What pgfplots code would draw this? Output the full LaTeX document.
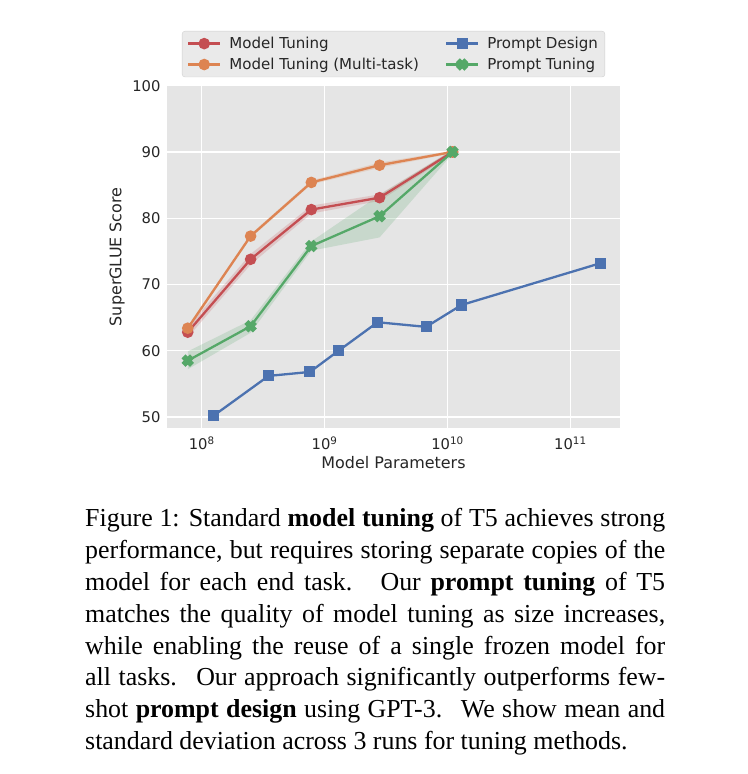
\documentclass[border=0pt]{standalone}
\usepackage{pgfplots}
\pgfplotsset{compat=1.18}
\usepackage{fontspec}
\setmainfont{Liberation Serif}
\newfontfamily\dejavu{DejaVu Sans}
\definecolor{cred}{HTML}{C44E52}
\definecolor{corange}{HTML}{DD8452}
\definecolor{cblue}{HTML}{4C72B0}
\definecolor{cgreen}{HTML}{55A868}
\definecolor{bg}{HTML}{E5E5E5}
\definecolor{legbg}{HTML}{EAEAEA}
\definecolor{legdraw}{HTML}{D0D0D0}
\definecolor{txt}{HTML}{262626}
\pgfdeclareplotmark{fatx}{%
  \pgfpathmoveto{\pgfqpoint{-0.5\pgfplotmarksize}{-1\pgfplotmarksize}}%
  \pgfpathlineto{\pgfqpoint{0\pgfplotmarksize}{-0.5\pgfplotmarksize}}%
  \pgfpathlineto{\pgfqpoint{0.5\pgfplotmarksize}{-1\pgfplotmarksize}}%
  \pgfpathlineto{\pgfqpoint{1\pgfplotmarksize}{-0.5\pgfplotmarksize}}%
  \pgfpathlineto{\pgfqpoint{0.5\pgfplotmarksize}{0\pgfplotmarksize}}%
  \pgfpathlineto{\pgfqpoint{1\pgfplotmarksize}{0.5\pgfplotmarksize}}%
  \pgfpathlineto{\pgfqpoint{0.5\pgfplotmarksize}{1\pgfplotmarksize}}%
  \pgfpathlineto{\pgfqpoint{0\pgfplotmarksize}{0.5\pgfplotmarksize}}%
  \pgfpathlineto{\pgfqpoint{-0.5\pgfplotmarksize}{1\pgfplotmarksize}}%
  \pgfpathlineto{\pgfqpoint{-1\pgfplotmarksize}{0.5\pgfplotmarksize}}%
  \pgfpathlineto{\pgfqpoint{-0.5\pgfplotmarksize}{0\pgfplotmarksize}}%
  \pgfpathlineto{\pgfqpoint{-1\pgfplotmarksize}{-0.5\pgfplotmarksize}}%
  \pgfpathclose
  \pgfusepathqfillstroke}
\begin{document}
\begin{tikzpicture}[x=1bp,y=1bp]
\useasboundingbox[fill=white] (0,0) rectangle (748,774);
\begin{axis}[
  at={(167bp,346bp)}, anchor=south west,
  scale only axis, width=453bp, height=342.3bp,
  xmode=log,
  xmin=5.22e7, xmax=2.535e11,
  ymin=48.34, ymax=100,
  axis background/.style={fill=bg},
  axis line style={draw=none},
  major tick length=0pt,
  minor tick length=0pt,
  xminorticks=false,
  grid=major,
  major grid style={white, line width=1.4bp},
  xtick={1e8,1e9,1e10,1e11},
  xticklabels={10\textsuperscript{8},10\textsuperscript{9},10\textsuperscript{10},10\textsuperscript{11}},
  ytick={50,60,70,80,90,100},
  /pgf/number format/assume math mode=true,
  tick label style={font=\dejavu\fontsize{14.8}{17}\selectfont, text=txt},
  yticklabel style={xshift=-3bp},
  xticklabel style={yshift=-5bp},
  every axis y label/.style={at={(axis description cs:-0.1104,0.5)},rotate=90,anchor=center,
     font=\dejavu\fontsize{16}{19}\selectfont, text=txt},
  every axis x label/.style={at={(axis description cs:0.5,-0.1022)},anchor=center,
     font=\dejavu\fontsize{16}{19}\selectfont, text=txt},
  xlabel={Model Parameters},
  ylabel={SuperGLUE Score},
  legend columns=2,
  transpose legend,
  legend cell align=left,
  legend image code/.code={\draw[mark repeat=2,mark phase=2] plot coordinates {(0bp,0bp) (16bp,0bp) (32bp,0bp)};
     \path (38bp,0bp);},
  legend style={at={(0.5,1)}, anchor=south, yshift=8.5bp,
    fill=legbg, draw=legdraw, rounded corners=3bp,
    font=\dejavu\fontsize{15.1}{17}\selectfont, text=txt,
    inner xsep=5bp, inner ysep=4bp, row sep=4bp,
    /tikz/every even column/.append style={column sep=24bp}},
  every axis plot/.append style={line width=2.3bp, mark size=4.6bp,
    mark options={draw=white, line width=0.9bp}},
]
% bands
\addplot[draw=none, fill=cred, fill opacity=0.2, forget plot] coordinates {
 (7.7e7,63.6) (2.5e8,74.6) (7.8e8,81.9) (2.8e9,83.6) (1.1e10,90.3)
 (1.1e10,89.7) (2.8e9,82.6) (7.8e8,80.7) (2.5e8,73.0) (7.7e7,62.0)};
\addplot[draw=none, fill=corange, fill opacity=0.2, forget plot] coordinates {
 (7.7e7,63.7) (2.5e8,77.6) (7.8e8,85.7) (2.8e9,88.4) (1.1e10,90.2)
 (1.1e10,89.8) (2.8e9,87.6) (7.8e8,85.1) (2.5e8,77.0) (7.7e7,63.1)};
\addplot[draw=none, fill=cgreen, fill opacity=0.2, forget plot] coordinates {
 (7.7e7,59.9) (2.5e8,64.6) (7.8e8,76.5) (2.8e9,83.5) (1.1e10,90.3)
 (1.1e10,89.7) (2.8e9,77.1) (7.8e8,75.1) (2.5e8,62.7) (7.7e7,57.2)};
% lines
\addplot[cred, mark=*, mark options={fill=cred}] coordinates {
 (7.7e7,62.8) (2.5e8,73.8) (7.8e8,81.3) (2.8e9,83.1) (1.1e10,90.0)};
\addlegendentry{Model Tuning}
\addplot[corange, mark=*, mark options={fill=corange}] coordinates {
 (7.7e7,63.4) (2.5e8,77.3) (7.8e8,85.4) (2.8e9,88.0) (1.1e10,90.0)};
\addlegendentry{Model Tuning (Multi-task)}
\addplot[cblue, mark=square*, mark size=4.4bp, mark options={fill=cblue}] coordinates {
 (1.25e8,50.2) (3.5e8,56.2) (7.6e8,56.8) (1.3e9,60.0) (2.7e9,64.3) (6.7e9,63.6) (1.3e10,66.9) (1.75e11,73.2)};
\addlegendentry{Prompt Design}
\addplot[cgreen, mark=fatx, mark size=4.6bp, mark options={fill=cgreen}] coordinates {
 (7.7e7,58.5) (2.5e8,63.7) (7.8e8,75.8) (2.8e9,80.3) (1.1e10,90.0)};
\addlegendentry{Prompt Tuning}
\end{axis}
\node[anchor=base west, inner sep=0pt, font=\fontsize{26}{31.9}\selectfont] at (85,247) {\parbox[t]{580bp}{%
\makebox[580bp][s]{Figure 1: Standard \textbf{model tuning} of T5 achieves strong}\\
\makebox[580bp][s]{performance, but requires storing separate copies of the}\\
\makebox[580bp][s]{model for each end task. \ Our \textbf{prompt tuning} of T5}\\
\makebox[580bp][s]{matches the quality of model tuning as size increases,}\\
\makebox[580bp][s]{while enabling the reuse of a single frozen model for}\\
\makebox[580bp][s]{all tasks. \ Our approach significantly outperforms few-}\\
\makebox[580bp][s]{shot \textbf{prompt design} using GPT-3. \ We show mean and}\\
standard deviation across 3 runs for tuning methods.}};
\end{tikzpicture}
\end{document}
